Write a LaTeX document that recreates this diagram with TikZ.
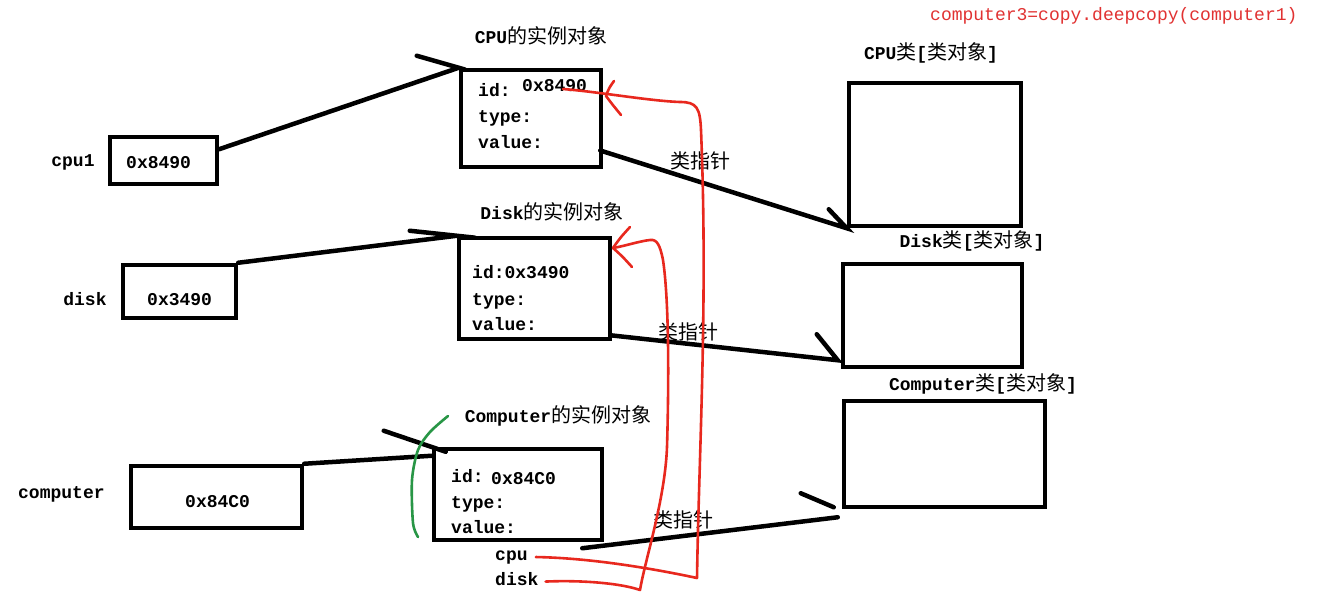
\documentclass[tikz,border=0pt]{standalone}
\usepackage{fontspec}
\setmainfont{Liberation Mono}
\newfontfamily\cjk{Noto Sans CJK SC}
\usetikzlibrary{calc}
\newcommand\zh[1]{{\cjk\mdseries\fontsize{20}{22}\selectfont #1}}
\definecolor{penred}{RGB}{232,40,30}
\definecolor{pengreen}{RGB}{40,150,70}
\definecolor{codered}{RGB}{225,50,50}
\begin{document}
\begin{tikzpicture}[x=1pt,y=-1pt,
 box/.style={draw, line width=4.5pt, inner sep=0pt},
 txt/.style={inner sep=0pt, font=\fontsize{18}{20}\selectfont\bfseries},
 code/.style={inner sep=0pt, text=codered, font=\fontsize{18}{20}\selectfont},
 conn/.style={line width=4.5pt, line cap=round},
 redline/.style={draw=penred, line width=2.6pt, line cap=round, line join=round},
 greenline/.style={draw=pengreen, line width=2.6pt, line cap=round}]
\useasboundingbox[fill=white] (0,0) rectangle (1320,597);

% boxes
\node[box, minimum width=107pt, minimum height=47pt] (cpuB) at (163.5,160.5) {};
\node[box, minimum width=113pt, minimum height=53pt] (diskB) at (179.5,291.5) {};
\node[box, minimum width=171pt, minimum height=62pt] (compB) at (216.5,497) {};
\node[box, minimum width=140pt, minimum height=97pt] (cpuI) at (531,118.5) {};
\node[box, minimum width=151pt, minimum height=101pt] (diskI) at (534.5,288.5) {};
\node[box, minimum width=168pt, minimum height=91pt] (compI) at (518,494.5) {};
\node[box, minimum width=172pt, minimum height=143pt] (cpuC) at (935,154.5) {};
\node[box, minimum width=179pt, minimum height=103pt] (diskC) at (932.5,315.5) {};
\node[box, minimum width=201pt, minimum height=106pt] (compC) at (944.5,454) {};

% variable labels and values
\node[txt, anchor=base] (cpuLbl) at (73,166) {cpu1};
\node[txt, anchor=base west] (cpuVal) at (126,168) {0x8490};
\node[txt, anchor=base] (diskLbl) at (85,305) {disk};
\node[txt, anchor=base west] (diskVal) at (147,305) {0x3490};
\node[txt, anchor=base west] (compLbl) at (18,498) {computer};
\node[txt, anchor=base west] (compVal) at (185,507) {0x84C0};

% CPU instance
\node[txt, anchor=base] (cpuTitle) at (541,43) {CPU\zh{的实例对象}};
\node[txt, anchor=base west] (cpuId) at (478,96) {id:};
\node[txt, anchor=base west] (cpuIdV) at (522,91) {0x8490};
\node[txt, anchor=base west] (cpuType) at (478,122) {type:};
\node[txt, anchor=base west] (cpuValue) at (478,148) {value:};

% Disk instance
\node[txt, anchor=base] (diskTitle) at (552,219) {Disk\zh{的实例对象}};
\node[txt, anchor=base west] (diskId) at (472,278) {id:0x3490};
\node[txt, anchor=base west] (diskType) at (472,305) {type:};
\node[txt, anchor=base west] (diskValue) at (472,330) {value:};

% Computer instance
\node[txt, anchor=base] (compTitle) at (558,422) {Computer\zh{的实例对象}};
\node[txt, anchor=base west] (compId) at (451,482) {id:};
\node[txt, anchor=base west] (compIdV) at (491,484) {0x84C0};
\node[txt, anchor=base west] (compType) at (451,508) {type:};
\node[txt, anchor=base west] (compValue) at (451,533) {value:};
\node[txt, anchor=base west] (cpuField) at (495,560) {cpu};
\node[txt, anchor=base west] (diskField) at (495,585) {disk};

% class titles
\node[txt, anchor=base] (cpuClsT) at (931,59) {CPU\zh{类}[\zh{类对象}]};
\node[txt, anchor=base] (diskClsT) at (972,247) {Disk\zh{类}[\zh{类对象}]};
\node[txt, anchor=base] (compClsT) at (983,390) {Computer\zh{类}[\zh{类对象}]};

% pointer labels
\node[txt, anchor=base] (ptr1) at (700,168) {\zh{类指针}};
\node[txt, anchor=base] (ptr2) at (688,339) {\zh{类指针}};
\node[txt, anchor=base] (ptr3) at (683,527) {\zh{类指针}};

% code
\node[code, anchor=base west] (codeT) at (930,20) {computer3=copy.deepcopy(computer1)};

% black connectors
\draw[conn] ($(cpuB.north east)!0.28!(cpuB.south east)$) -- (cpuI.north west) -- ++(-42,-12);
\draw[conn] ($(cpuI.east)+(-3,32)$) -- (cpuC.south west) -- ++(-18,-19);
\draw[conn] (diskB.north east) -- (diskI.north west) -- ++(-47,-5);
\draw[conn] ($(diskI.south east)+(-2,-6)$) -- ($(diskC.south west)+(-3,-9)$) -- ++(-21,-26);
\draw[conn] (compB.north east) -- ($(compI.north west)+(0,9)$);
\draw[conn] ($(compI.north west)+(14,5)$) -- ++(-62,-21);
\draw[conn] ($(compI.south east)+(-22,6)$) -- ($(compC.south west)+(-4,8)$);
\draw[conn] ($(compC.south west)+(-8,-2)$) -- ++(-33,-14);

% red hand-drawn links
\draw[redline] ($(cpuField.east)+(8,0)$) .. controls (590,558) and (650,568) .. (697,578)
  .. controls (699,450) and (708,300) .. (701,130)
  .. controls (700,108) and (697,102) .. (680,102)
  .. controls (650,101) and (600,92) .. (563,89);
\draw[redline] (614,81) .. controls (609,88) .. (606,96) .. controls (612,104) .. (621,115);
\draw[redline] ($(diskField.east)+(7,3)$) .. controls (580,580) and (620,583) .. (640,590)
  .. controls (645,560) and (665,500) .. (667,447)
  .. controls (669,380) and (669,300) .. (663,260)
  .. controls (660,245) and (657,239) .. (650,240)
  .. controls (640,241) and (625,246) .. (613,248);
\draw[redline] (630,227) .. controls (620,238) .. (613,248) .. controls (622,256) .. (632,267);

% green stroke
\draw[greenline] plot[smooth] coordinates {(448,416) (430,432) (418,450) (412,480) (413,523) (418,537)};
\end{tikzpicture}
\end{document}
